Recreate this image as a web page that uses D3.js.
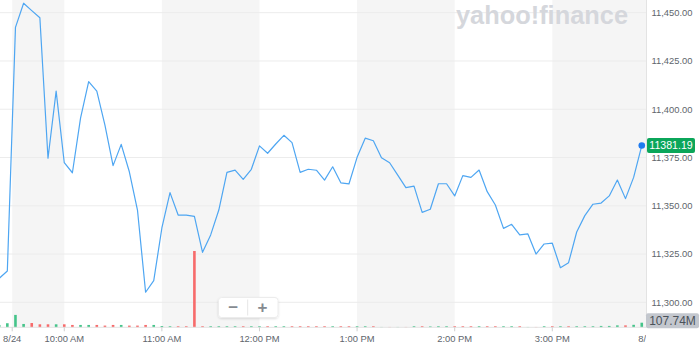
<!DOCTYPE html>
<html>
<head>
<meta charset="utf-8">
<script src="https://cdn.jsdelivr.net/npm/d3@7"></script>
<style>
  html, body { margin: 0; padding: 0; background: #fff; }
  svg { display: block; font-family: "Liberation Sans", Arial, sans-serif; }
</style>
</head>
<body>
<div id="chart"></div>
<script>
// minutes after 9:30 AM on 8/24, one bar every 5 minutes (first two are the previous session)
const times = d3.range(-10, 390, 5);

const prices = [
  11312.4, 11316.2,
  11442.4, 11454.9, 11451.1, 11447.4, 11374.6, 11409.4, 11372.3, 11367.1, 11395.4, 11414.3,
  11409.4, 11391.8, 11370.8, 11381.8, 11367.6, 11347.8, 11305.2, 11311.2, 11338.5, 11356.8,
  11345.2, 11345.2, 11344.5, 11325.9, 11334.9, 11347.8, 11367.3, 11368.5, 11363.7, 11368.9,
  11381.0, 11377.2, 11382.0, 11386.5, 11382.7, 11367.3, 11368.9, 11368.4, 11363.3, 11370.2,
  11361.9, 11361.3, 11375.1, 11385.0, 11383.7, 11374.9, 11372.3, 11365.9, 11359.4, 11360.2,
  11346.6, 11348.2, 11361.4, 11361.4, 11355.1, 11365.6, 11364.7, 11368.5, 11357.3, 11350.4,
  11338.3, 11340.4, 11334.9, 11335.4, 11325.0, 11330.2, 11330.6, 11317.9, 11320.5, 11336.4,
  11344.9, 11350.8, 11351.4, 11355.1, 11363.3, 11353.7, 11364.7, 11381.19
];

// volume in millions
const volumes = [
  55, 95,
  290, 78, 100, 70, 70, 70, 70, 55, 55, 55,
  55, 40, 55, 55, 40, 40, 55, 55, 30, 25,
  25, 25, 1785, 25, 25, 25, 25, 25, 25, 25,
  25, 25, 25, 25, 25, 25, 25, 25, 25, 25,
  25, 25, 25, 25, 25, 8, 8, 8, 8, 25,
  25, 20, 25, 25, 25, 25, 25, 25, 25, 25,
  25, 25, 25, 8, 8, 25, 25, 25, 25, 25,
  25, 25, 32, 32, 45, 45, 58, 107.74
];

const volumeDir = [
  'up', 'up',
  'up', 'up', 'down', 'down', 'down', 'up', 'down', 'down', 'up', 'up',
  'down', 'down', 'down', 'up', 'down', 'down', 'down', 'up', 'up', 'up',
  'down', 'down', 'down', 'down', 'up', 'up', 'up', 'up', 'down', 'up',
  'up', 'down', 'up', 'up', 'down', 'down', 'down', 'down', 'down', 'up',
  'down', 'down', 'up', 'up', 'down', 'up', 'down', 'up', 'down', 'up',
  'down', 'up', 'up', 'up', 'down', 'down', 'down', 'up', 'down', 'down',
  'up', 'up', 'down', 'up', 'down', 'up', 'down', 'up', 'down', 'up',
  'up', 'up', 'up', 'up', 'up', 'down', 'up', 'up'
];

const yTicks = [11300, 11325, 11350, 11375, 11400, 11425, 11450];

const xTickTimes = [-2, 30, 90, 150, 210, 270, 330, 388.5];
const xTickLabels = ['8/24', '10:00 AM', '11:00 AM', '12:00 PM', '1:00 PM', '2:00 PM', '3:00 PM', '8/25'];

const lastPriceLabel = '11381.19';
const lastVolumeLabel = '107.74M';

const width = 700;
const height = 346;
const plotRight = 646;
const baseY = 327.3;

const svg = d3.select('#chart').append('svg')
  .attr('width', width)
  .attr('height', height);

const defs = svg.append('defs');
defs.append('clipPath').attr('id', 'plotClip')
  .append('rect').attr('x', 0).attr('y', 0).attr('width', plotRight).attr('height', height);
const shadow = defs.append('filter').attr('id', 'btnShadow')
  .attr('x', '-20%').attr('y', '-30%').attr('width', '140%').attr('height', '170%');
shadow.append('feDropShadow').attr('dx', 0).attr('dy', 1).attr('stdDeviation', 1.2)
  .attr('flood-color', '#000').attr('flood-opacity', 0.12);

// scales
const x = d3.scaleLinear().domain([-10, 390]).range([-0.8, 649.9]);
const y = d3.scaleLinear().domain([11300, 11450]).range([302.3, 12.7]);
const yVol = d3.scaleLinear().domain([0, 2000]).range([baseY, baseY - 85.5]);

const plot = svg.append('g').attr('clip-path', 'url(#plotClip)');

// alternating hour bands
const bandEdges = xTickTimes.slice(0, 7).concat([400]);
for (let i = 0; i < bandEdges.length - 1; i += 2) {
  plot.append('rect')
    .attr('x', x(bandEdges[i]))
    .attr('y', 0)
    .attr('width', x(bandEdges[i + 1]) - x(bandEdges[i]))
    .attr('height', baseY)
    .attr('fill', '#f5f5f5');
}

// horizontal grid
plot.selectAll('.grid')
  .data(yTicks)
  .enter()
  .append('line')
  .attr('class', 'grid')
  .attr('x1', 0).attr('x2', plotRight)
  .attr('y1', d => y(d)).attr('y2', d => y(d))
  .attr('stroke', '#ececec')
  .attr('stroke-width', 1);

// watermark
svg.append('text')
  .attr('x', 456)
  .attr('y', 24)
  .attr('textLength', 172)
  .attr('lengthAdjust', 'spacingAndGlyphs')
  .attr('font-size', 25)
  .attr('font-weight', 'bold')
  .attr('fill', '#d5d7dc')
  .text('yahoo!finance');

// volume bars
plot.selectAll('.vol')
  .data(volumes)
  .enter()
  .append('rect')
  .attr('class', 'vol')
  .attr('x', (d, i) => x(times[i]) - 1.3)
  .attr('y', d => yVol(d))
  .attr('width', 2.6)
  .attr('height', d => baseY - yVol(d))
  .attr('fill', (d, i) => volumeDir[i] === 'up' ? '#45c48a' : '#f76b6b');

// bottom axis line + ticks
svg.append('line')
  .attr('x1', 0).attr('x2', plotRight)
  .attr('y1', baseY).attr('y2', baseY)
  .attr('stroke', '#e3e3e3');

svg.append('line')
  .attr('x1', plotRight + 0.5).attr('x2', plotRight + 0.5)
  .attr('y1', 0).attr('y2', baseY)
  .attr('stroke', '#e3e3e3');

const xAxis = svg.append('g');
xAxis.selectAll('.xtick')
  .data(xTickTimes.slice(0, 7))
  .enter()
  .append('line')
  .attr('x1', d => x(d)).attr('x2', d => x(d))
  .attr('y1', baseY).attr('y2', baseY + 4)
  .attr('stroke', '#cfcfcf');

const xLabels = svg.append('g').attr('clip-path', 'url(#plotClip)');
xLabels.selectAll('.xlab')
  .data(xTickTimes)
  .enter()
  .append('text')
  .attr('x', d => x(d))
  .attr('y', 342.3)
  .attr('text-anchor', 'middle')
  .attr('font-size', 9.4)
  .attr('fill', '#5e656c')
  .text((d, i) => xTickLabels[i]);

// y axis labels on the right
const fmt = d3.format(',.2f');
svg.selectAll('.ylab')
  .data(yTicks)
  .enter()
  .append('text')
  .attr('x', 651.5)
  .attr('y', d => y(d) + 3.4)
  .attr('font-size', 9.4)
  .attr('fill', '#5e656c')
  .text(d => fmt(d));

// price line
const line = d3.line()
  .x((d, i) => x(times[i]))
  .y(d => y(d));

plot.append('path')
  .datum(prices)
  .attr('d', line)
  .attr('fill', 'none')
  .attr('stroke', '#4ea6f2')
  .attr('stroke-width', 1.2)
  .attr('stroke-linejoin', 'round');

const lastI = prices.length - 1;
svg.append('circle')
  .attr('cx', x(times[lastI]))
  .attr('cy', y(prices[lastI]))
  .attr('r', 3.3)
  .attr('fill', '#1e7bf0');

// last price tag
const tagY = y(prices[lastI]);
svg.append('rect')
  .attr('x', 647).attr('y', tagY - 7.5)
  .attr('width', 48).attr('height', 15)
  .attr('rx', 2)
  .attr('fill', '#0ba65a');
svg.append('text')
  .attr('x', 671).attr('y', tagY + 3.8)
  .attr('text-anchor', 'middle')
  .attr('font-size', 10.6)
  .attr('fill', '#fff')
  .text(lastPriceLabel);

// last volume tag
const volTagY = yVol(volumes[lastI]) - 2;
svg.append('rect')
  .attr('x', 646).attr('y', volTagY - 7.5)
  .attr('width', 53).attr('height', 15)
  .attr('rx', 2)
  .attr('fill', '#c3c7ce');
svg.append('text')
  .attr('x', 672.5).attr('y', volTagY + 4.2)
  .attr('text-anchor', 'middle')
  .attr('font-size', 12)
  .attr('fill', '#4b525a')
  .text(lastVolumeLabel);

// zoom buttons
const btn = svg.append('g');
btn.append('rect')
  .attr('x', 218.5).attr('y', 297.5)
  .attr('width', 59.5).attr('height', 20)
  .attr('rx', 3)
  .attr('fill', '#fff')
  .attr('stroke', '#ececec')
  .attr('filter', 'url(#btnShadow)');
btn.append('line')
  .attr('x1', 247.7).attr('x2', 247.7)
  .attr('y1', 299.5).attr('y2', 315.5)
  .attr('stroke', '#e6e6e6');
btn.append('text')
  .attr('x', 233.3).attr('y', 312.5)
  .attr('text-anchor', 'middle')
  .attr('font-size', 17)
  .attr('font-weight', 'bold')
  .attr('fill', '#858a90')
  .text('−');
btn.append('text')
  .attr('x', 262.5).attr('y', 312.5)
  .attr('text-anchor', 'middle')
  .attr('font-size', 17)
  .attr('font-weight', 'bold')
  .attr('fill', '#858a90')
  .text('+');
</script>
</body>
</html>
